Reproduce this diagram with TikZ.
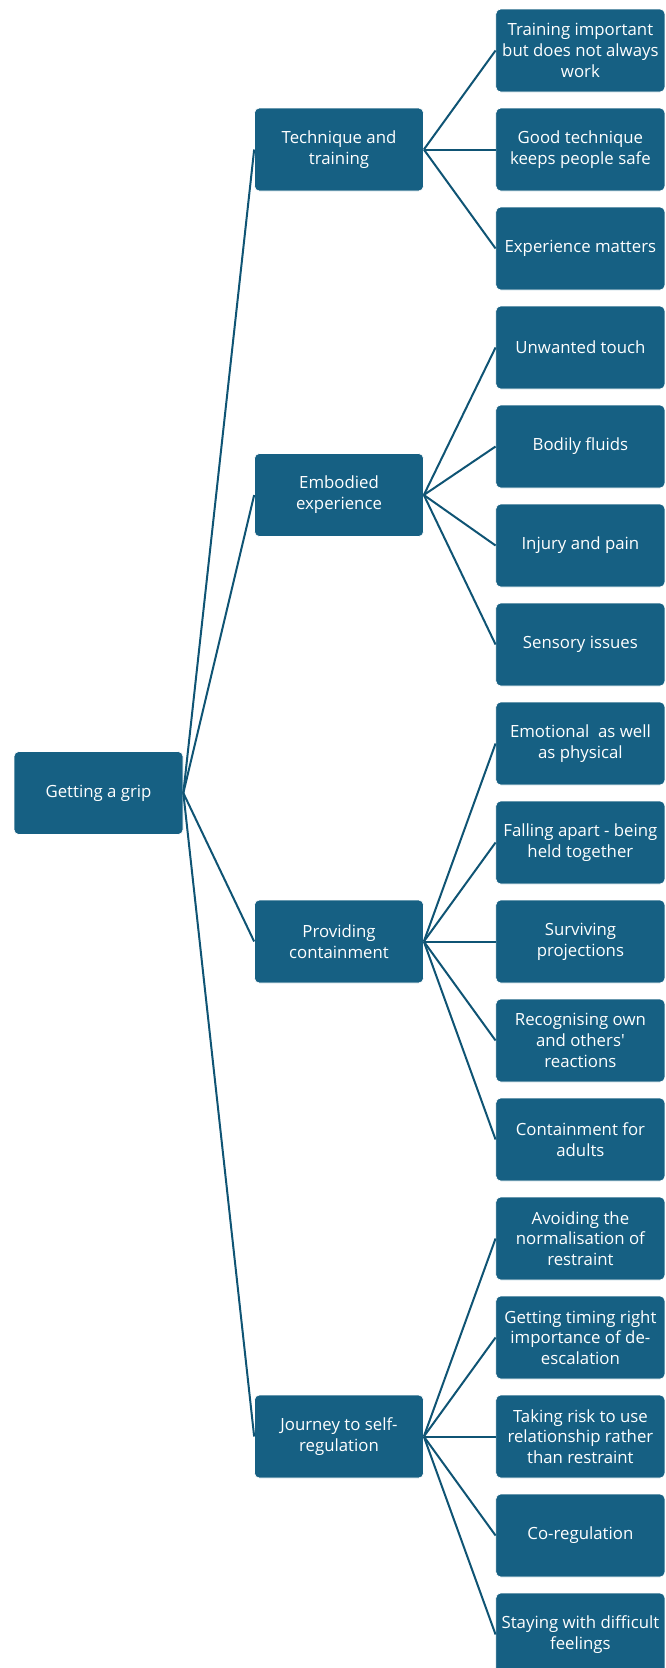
\documentclass[tikz,border=0pt]{standalone}
\usepackage{fontspec}
\setmainfont{Open Sans}[Ligatures=TeXOff]
\definecolor{boxblue}{HTML}{166083}
\definecolor{linkblue}{HTML}{0F5474}
\begin{document}
\begin{tikzpicture}[x=0.75pt,y=-0.75pt,
  box/.style={rectangle,rounded corners=3.6pt,fill=boxblue,draw=white,line width=0.5pt,
    text=white,minimum width=126.75pt,minimum height=62.25pt,align=center,
    inner sep=1pt,font=\fontsize{12.6pt}{15.6pt}\selectfont},
  link/.style={draw=linkblue,line width=1.5pt}]
\useasboundingbox (0,0) rectangle (666,1668);
% root
\node[box] (root) at (98.5,793) {Getting a grip};
% branches
\node[box] (tech) at (339,149.5) {Technique and\\training};
\node[box] (body) at (339,495) {Embodied\\experience};
\node[box] (cont) at (339,941.5) {Providing\\containment};
\node[box] (jour) at (339,1436.5) {Journey to self-\\regulation};
% leaves
\node[box] (l0)  at (580.4,50.5)   {Training important\\but does not always\\work};
\node[box] (l1)  at (580.4,149.5)  {Good technique\\keeps people safe};
\node[box] (l2)  at (580.4,248.5)  {Experience matters};
\node[box] (l3)  at (580.4,347.5)  {Unwanted touch};
\node[box] (l4)  at (580.4,446.5)  {Bodily fluids};
\node[box] (l5)  at (580.4,545.5)  {Injury and pain};
\node[box] (l6)  at (580.4,644.5)  {Sensory issues};
\node[box] (l7)  at (580.4,743.5)  {Emotional\ \ as well\\as physical};
\node[box] (l8)  at (580.4,842.5)  {Falling apart - being\\held together};
\node[box] (l9)  at (580.4,941.5)  {Surviving\\projections};
\node[box] (l10) at (580.4,1040.5) {Recognising own\\and others'\\reactions};
\node[box] (l11) at (580.4,1139.5) {Containment for\\adults};
\node[box] (l12) at (580.4,1238.5) {Avoiding the\\normalisation of\\restraint};
\node[box] (l13) at (580.4,1337.5) {Getting timing right\\importance of de-\\escalation};
\node[box] (l14) at (580.4,1436.5) {Taking risk to use\\relationship rather\\than restraint};
\node[box] (l15) at (580.4,1535.5) {Co-regulation};
\node[box] (l16) at (580.4,1634.5) {Staying with difficult\\feelings};
% connectors
\foreach \b in {tech,body,cont,jour} \draw[link] (root.east) -- (\b.west);
\foreach \l in {l0,l1,l2} \draw[link] (tech.east) -- (\l.west);
\foreach \l in {l3,l4,l5,l6} \draw[link] (body.east) -- (\l.west);
\foreach \l in {l7,l8,l9,l10,l11} \draw[link] (cont.east) -- (\l.west);
\foreach \l in {l12,l13,l14,l15,l16} \draw[link] (jour.east) -- (\l.west);
\end{tikzpicture}
\end{document}
